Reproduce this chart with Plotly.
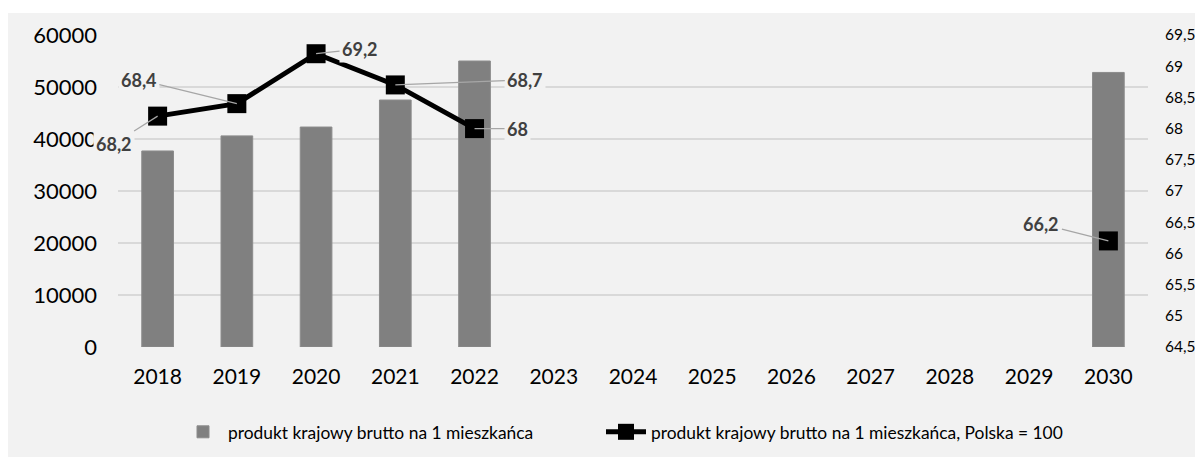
import plotly.graph_objects as go

# data
years = ['2018', '2019', '2020', '2021', '2022', '2023', '2024',
         '2025', '2026', '2027', '2028', '2029', '2030']
pkb_per_capita = [37700, 40600, 42300, 47500, 55000, None, None,
                  None, None, None, None, None, 52800]
pkb_index = [68.2, 68.4, 69.2, 68.7, 68.0, None, None,
             None, None, None, None, None, 66.2]

bar_name = 'produkt krajowy brutto na 1 mieszkańca'
line_name = 'produkt krajowy brutto na 1 mieszkańca, Polska = 100'

# label offsets (pixels) for the data labels of the line
label_offsets = {'2018': (-44, 28), '2019': (-98, -24), '2020': (44, -5),
                 '2021': (130, -5), '2022': (43, 0), '2030': (-67, -17)}

FONT = 'Lato, "Open Sans", sans-serif'
PAGE = 8  # default body margin of the html page
W, H = 1203 - PAGE, 457 - PAGE
ML, MR, MT, MB = 118 - PAGE, 55, 35 - PAGE, 110
PW, PH = W - ML - MR, H - MT - MB


def px_x(px):
    # page pixel -> paper x
    return (px - PAGE - ML) / PW


def px_y(py):
    # page pixel -> paper y
    return (H - MB - (py - PAGE)) / PH


fig = go.Figure()

fig.add_trace(go.Bar(
    x=years, y=pkb_per_capita, name=bar_name,
    marker=dict(color='#808080', line=dict(color='#8c8c8c', width=1)),
    width=0.4, legend='legend',
))

fig.add_trace(go.Scatter(
    x=years, y=pkb_index, name=line_name, yaxis='y2',
    mode='lines+markers',
    line=dict(color='black', width=5),
    marker=dict(symbol='square', size=19, color='black'),
    connectgaps=False, legend='legend2',
))

# data labels with leader lines (x as category index, not as the year number)
for i, (yr, val) in enumerate(zip(years, pkb_index)):
    if val is None:
        continue
    ax, ay = label_offsets[yr]
    txt = ('%g' % val).replace('.', ',')
    fig.add_annotation(
        x=i, y=val, xref='x', yref='y2', text=txt,
        showarrow=True, arrowhead=0, arrowwidth=1.2, arrowcolor='#a6a6a6',
        ax=ax, ay=ay, standoff=0,
        font=dict(family=FONT, size=18, color='#404040', weight='bold'),
        bgcolor='#f2f2f2', borderpad=2,
    )

# grey chart area, white strip on top like the source
fig.add_shape(
    type='rect', xref='paper', yref='paper', layer='below',
    x0=px_x(PAGE - 2), x1=px_x(1206), y0=px_y(460), y1=px_y(13),
    fillcolor='#f2f2f2', line=dict(width=0),
)

legend_style = dict(
    orientation='h', xanchor='left', y=px_y(432), yanchor='middle',
    font=dict(family=FONT, size=17.4, color='black'),
    bgcolor='rgba(0,0,0,0)', itemwidth=40,
)

fig.update_layout(
    width=W, height=H,
    margin=dict(l=ML, r=MR, t=MT, b=MB, autoexpand=False),
    paper_bgcolor='white', plot_bgcolor='rgba(0,0,0,0)',
    separators=',.',
    font=dict(family=FONT, color='black'),
    bargap=0.6,
    showlegend=True,
    legend=dict(legend_style, x=px_x(178)),
    legend2=dict(legend_style, x=px_x(601)),
    xaxis=dict(
        type='category', range=[-0.5, 12.5], automargin=False,
        showgrid=False, zeroline=False, showline=False,
        tickfont=dict(size=21), ticks='', ticklabelstandoff=15,
    ),
    yaxis=dict(
        range=[0, 60000], dtick=10000, tickformat='d', automargin=False,
        showgrid=True, gridcolor='#d9d9d9', gridwidth=1.5,
        zeroline=False, showline=False,
        tickfont=dict(size=22), ticks='', ticklabelstandoff=20,
    ),
    yaxis2=dict(
        overlaying='y', side='right', range=[64.5, 69.5], dtick=0.5,
        automargin=False,
        showgrid=False, zeroline=False, showline=False,
        tickfont=dict(size=15.5), ticks='', ticklabelstandoff=16,
    ),
)

fig.write_html('out.html')
